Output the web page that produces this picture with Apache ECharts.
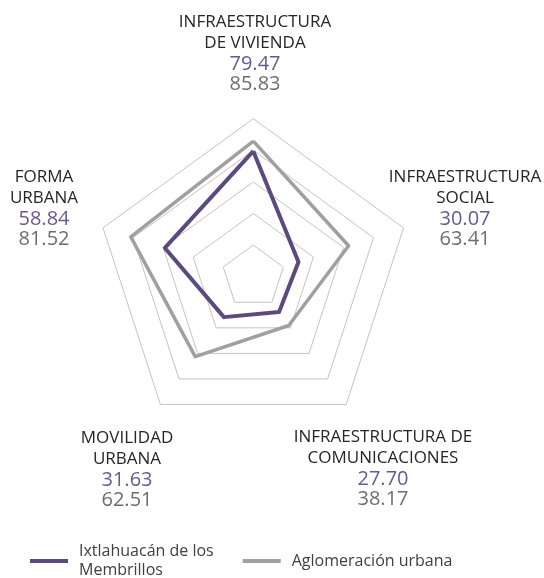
<!DOCTYPE html>
<html>
<head>
<meta charset="utf-8">
<script src="https://cdn.jsdelivr.net/npm/echarts@6/dist/echarts.min.js"></script>
<style>
  html, body { margin: 0; padding: 0; background: #fff; }
  #chart { width: 544px; height: 578px; }
</style>
</head>
<body>
<div id="chart"></div>
<script>
// indicators, counter-clockwise from the top (echarts radar default)
var indicators = ['INFRAESTRUCTURA\nDE VIVIENDA', 'FORMA\nURBANA', 'MOVILIDAD\nURBANA', 'INFRAESTRUCTURA DE\nCOMUNICACIONES', 'INFRAESTRUCTURA\nSOCIAL'];
var seriesNames = ['Ixtlahuacán de los Membrillos', 'Aglomeración urbana'];
var ixtlahuacan = [79.47, 58.84, 31.63, 27.70, 30.07];
var aglomeracion = [85.83, 81.52, 62.51, 38.17, 63.41];

// label block anchors (top centre of each text block)
var labelPos = [[255, 11], [44, 166], [127, 427], [383, 426], [465, 166]];

var font = '"Open Sans", "Noto Sans", sans-serif';
var purple = '#5c4a7e';
var grey = '#a0a0a0';

var chart = echarts.init(document.getElementById('chart'));

var labels = indicators.map(function (name, i) {
    var txt = name.split('\n').map(function (s) { return '{n|' + s + '}'; }).join('\n');
    txt += '\n{a|' + ixtlahuacan[i].toFixed(2) + '}\n{b|' + aglomeracion[i].toFixed(2) + '}';
    return {
        type: 'text',
        x: labelPos[i][0],
        y: labelPos[i][1],
        style: {
            text: txt,
            align: 'center',
            verticalAlign: 'top',
            rich: {
                n: { fontSize: 17, lineHeight: 21.5, fill: '#262626', fontFamily: font },
                a: { fontSize: 20, lineHeight: 20, fill: '#6a5891', fontFamily: font },
                b: { fontSize: 20, lineHeight: 20, fill: '#6e6e6e', fontFamily: font }
            }
        }
    };
});

var option = {
    backgroundColor: '#fff',
    animation: false,
    legend: {
        data: seriesNames,
        left: 30,
        top: 542,
        padding: 0,
        icon: 'rect',
        itemWidth: 38,
        itemHeight: 4,
        itemGap: 29,
        formatter: function (name) {
            return name === seriesNames[0] ? 'Ixtlahuacán de los\nMembrillos' : name;
        },
        textStyle: { fontSize: 16, lineHeight: 19, color: '#404040', fontFamily: font, padding: [0, 0, 0, 6] }
    },
    radar: {
        center: [253.3, 276.7],
        radius: 158,
        startAngle: 90,
        splitNumber: 5,
        shape: 'polygon',
        indicator: indicators.map(function (n) { return { name: n.replace('\n', ' '), min: 0, max: 100 }; }),
        axisName: { show: false },
        axisLine: { show: false },
        axisTick: { show: false },
        axisLabel: { show: false },
        splitLine: { lineStyle: { color: '#c4c4c4', width: 1 } },
        splitArea: { show: false }
    },
    graphic: labels,
    series: [
        {
            name: seriesNames[0],
            type: 'radar',
            z: 3,
            symbol: 'none',
            lineStyle: { color: purple, width: 4 },
            itemStyle: { color: purple },
            data: [{ name: seriesNames[0], value: ixtlahuacan }]
        },
        {
            name: seriesNames[1],
            type: 'radar',
            z: 2,
            symbol: 'none',
            lineStyle: { color: grey, width: 3.5 },
            itemStyle: { color: grey },
            data: [{ name: seriesNames[1], value: aglomeracion }]
        }
    ]
};

chart.setOption(option);
</script>
</body>
</html>
